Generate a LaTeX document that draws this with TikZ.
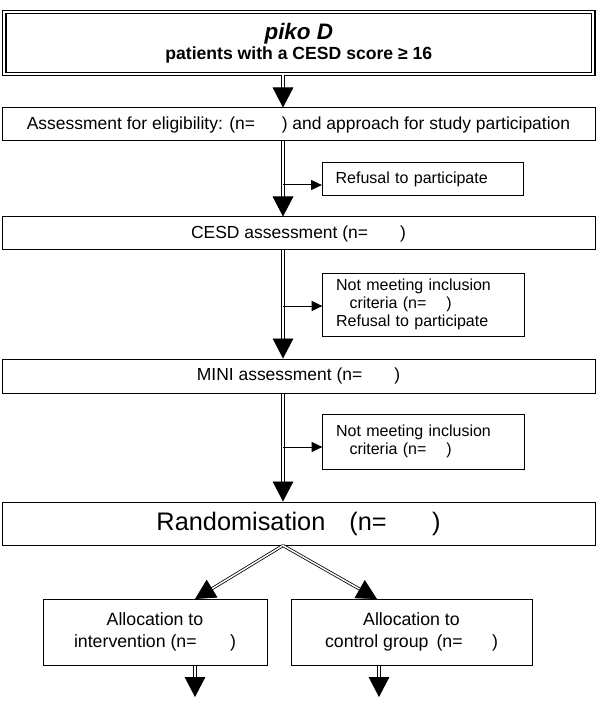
\documentclass[tikz,border=0pt]{standalone}
\usepackage{fontspec}
\setmainfont{Liberation Sans}
\usetikzlibrary{arrows.meta}
\begin{document}
\begin{tikzpicture}[x=0.75pt,y=-0.75pt,
  wide/.style={draw, line width=0.75pt, inner sep=0pt, minimum width=444.75pt},
  side/.style={draw, line width=0.75pt, inner sep=0pt, minimum width=151pt, text width=131pt, align=left, font=\fontsize{12}{13.5}\selectfont},
  alloc/.style={draw, line width=0.75pt, inner sep=0pt, minimum height=49.5pt, align=center, font=\fontsize{13.3}{16.5}\selectfont},
  normal/.style={font=\fontsize{13.1}{15}\selectfont},
  mainarr/.style={draw, line width=0.6pt, double, double distance=1.1pt, -{Triangle[width=15.5pt,length=15pt]}},
  sidearr/.style={draw, line width=0.75pt, -{Triangle[width=7.5pt,length=8pt]}}]
\useasboundingbox (0,0) rectangle (600,716);

% boxes
\node[draw, double, line width=0.9pt, double distance=1.6pt, inner sep=0pt,
      minimum width=441.75pt, minimum height=46.5pt, align=center] (top) at (298.8,43)
  {{\fontsize{16.8}{18}\selectfont\bfseries\itshape piko D}\\[1pt]
   {\fontsize{13.2}{15}\selectfont\bfseries patients with a CESD score ≥ 16}};
\node[wide, normal, minimum height=24.75pt] (elig) at (298.5,124.5)
  {Assessment for eligibility: (n=\hspace{20pt}) and approach for study participation};
\node[side, minimum height=24.75pt] (ref) at (423,179.5) {Refusal to participate};
\node[wide, normal, minimum height=24.75pt] (cesd) at (298.5,233.5)
  {CESD assessment (n=\hspace{24pt})};
\node[side, minimum height=47.25pt] (nm1) at (423.5,304.5)
  {Not meeting inclusion\\\hspace*{10pt}criteria (n=\hspace{15pt})\\Refusal to participate};
\node[wide, normal, minimum height=25.5pt] (mini) at (298.5,376)
  {MINI assessment (n=\hspace{24pt})};
\node[side, minimum height=41.25pt] (nm2) at (423.5,441.5)
  {Not meeting inclusion\\\hspace*{10pt}criteria (n=\hspace{15pt})};
\node[wide, minimum height=32.25pt, font=\fontsize{19}{22}\selectfont] (rand) at (298.5,523.5)
  {Randomisation\hspace{18pt}(n=\hspace{34pt})};
\node[alloc, minimum width=168pt] (allocL) at (155,632)
  {Allocation to\\intervention (n=\hspace{25pt})};
\node[alloc, minimum width=180.75pt] (allocR) at (411.5,632)
  {Allocation to\\control group\hspace{6pt}(n=\hspace{22pt})};

% helper coordinates
\coordinate (spine) at (283,0);
\coordinate (s1) at (283,185);
\coordinate (s2) at (283,306);
\coordinate (s3) at (283,447);
\coordinate (tipL) at (195,599);
\coordinate (tipR) at (377,599);
\coordinate (endL) at (195,697);
\coordinate (endR) at (379,697);

% main flow
\draw[mainarr] (top.south -| spine) -- (elig.north -| spine);
\draw[mainarr] (elig.south -| spine) -- (cesd.north -| spine);
\draw[mainarr] (cesd.south -| spine) -- (mini.north -| spine);
\draw[mainarr] (mini.south -| spine) -- (rand.north -| spine);
\draw[mainarr] (rand.south -| spine) -- (tipL);
\draw[mainarr] (rand.south -| spine) -- (tipR);
\draw[mainarr] (allocL.south -| endL) -- (endL);
\draw[mainarr] (allocR.south -| endR) -- (endR);

% side flows
\draw[sidearr] (s1) -- (s1 -| ref.west);
\draw[sidearr] (s2) -- (s2 -| nm1.west);
\draw[sidearr] (s3) -- (s3 -| nm2.west);
\end{tikzpicture}
\end{document}
